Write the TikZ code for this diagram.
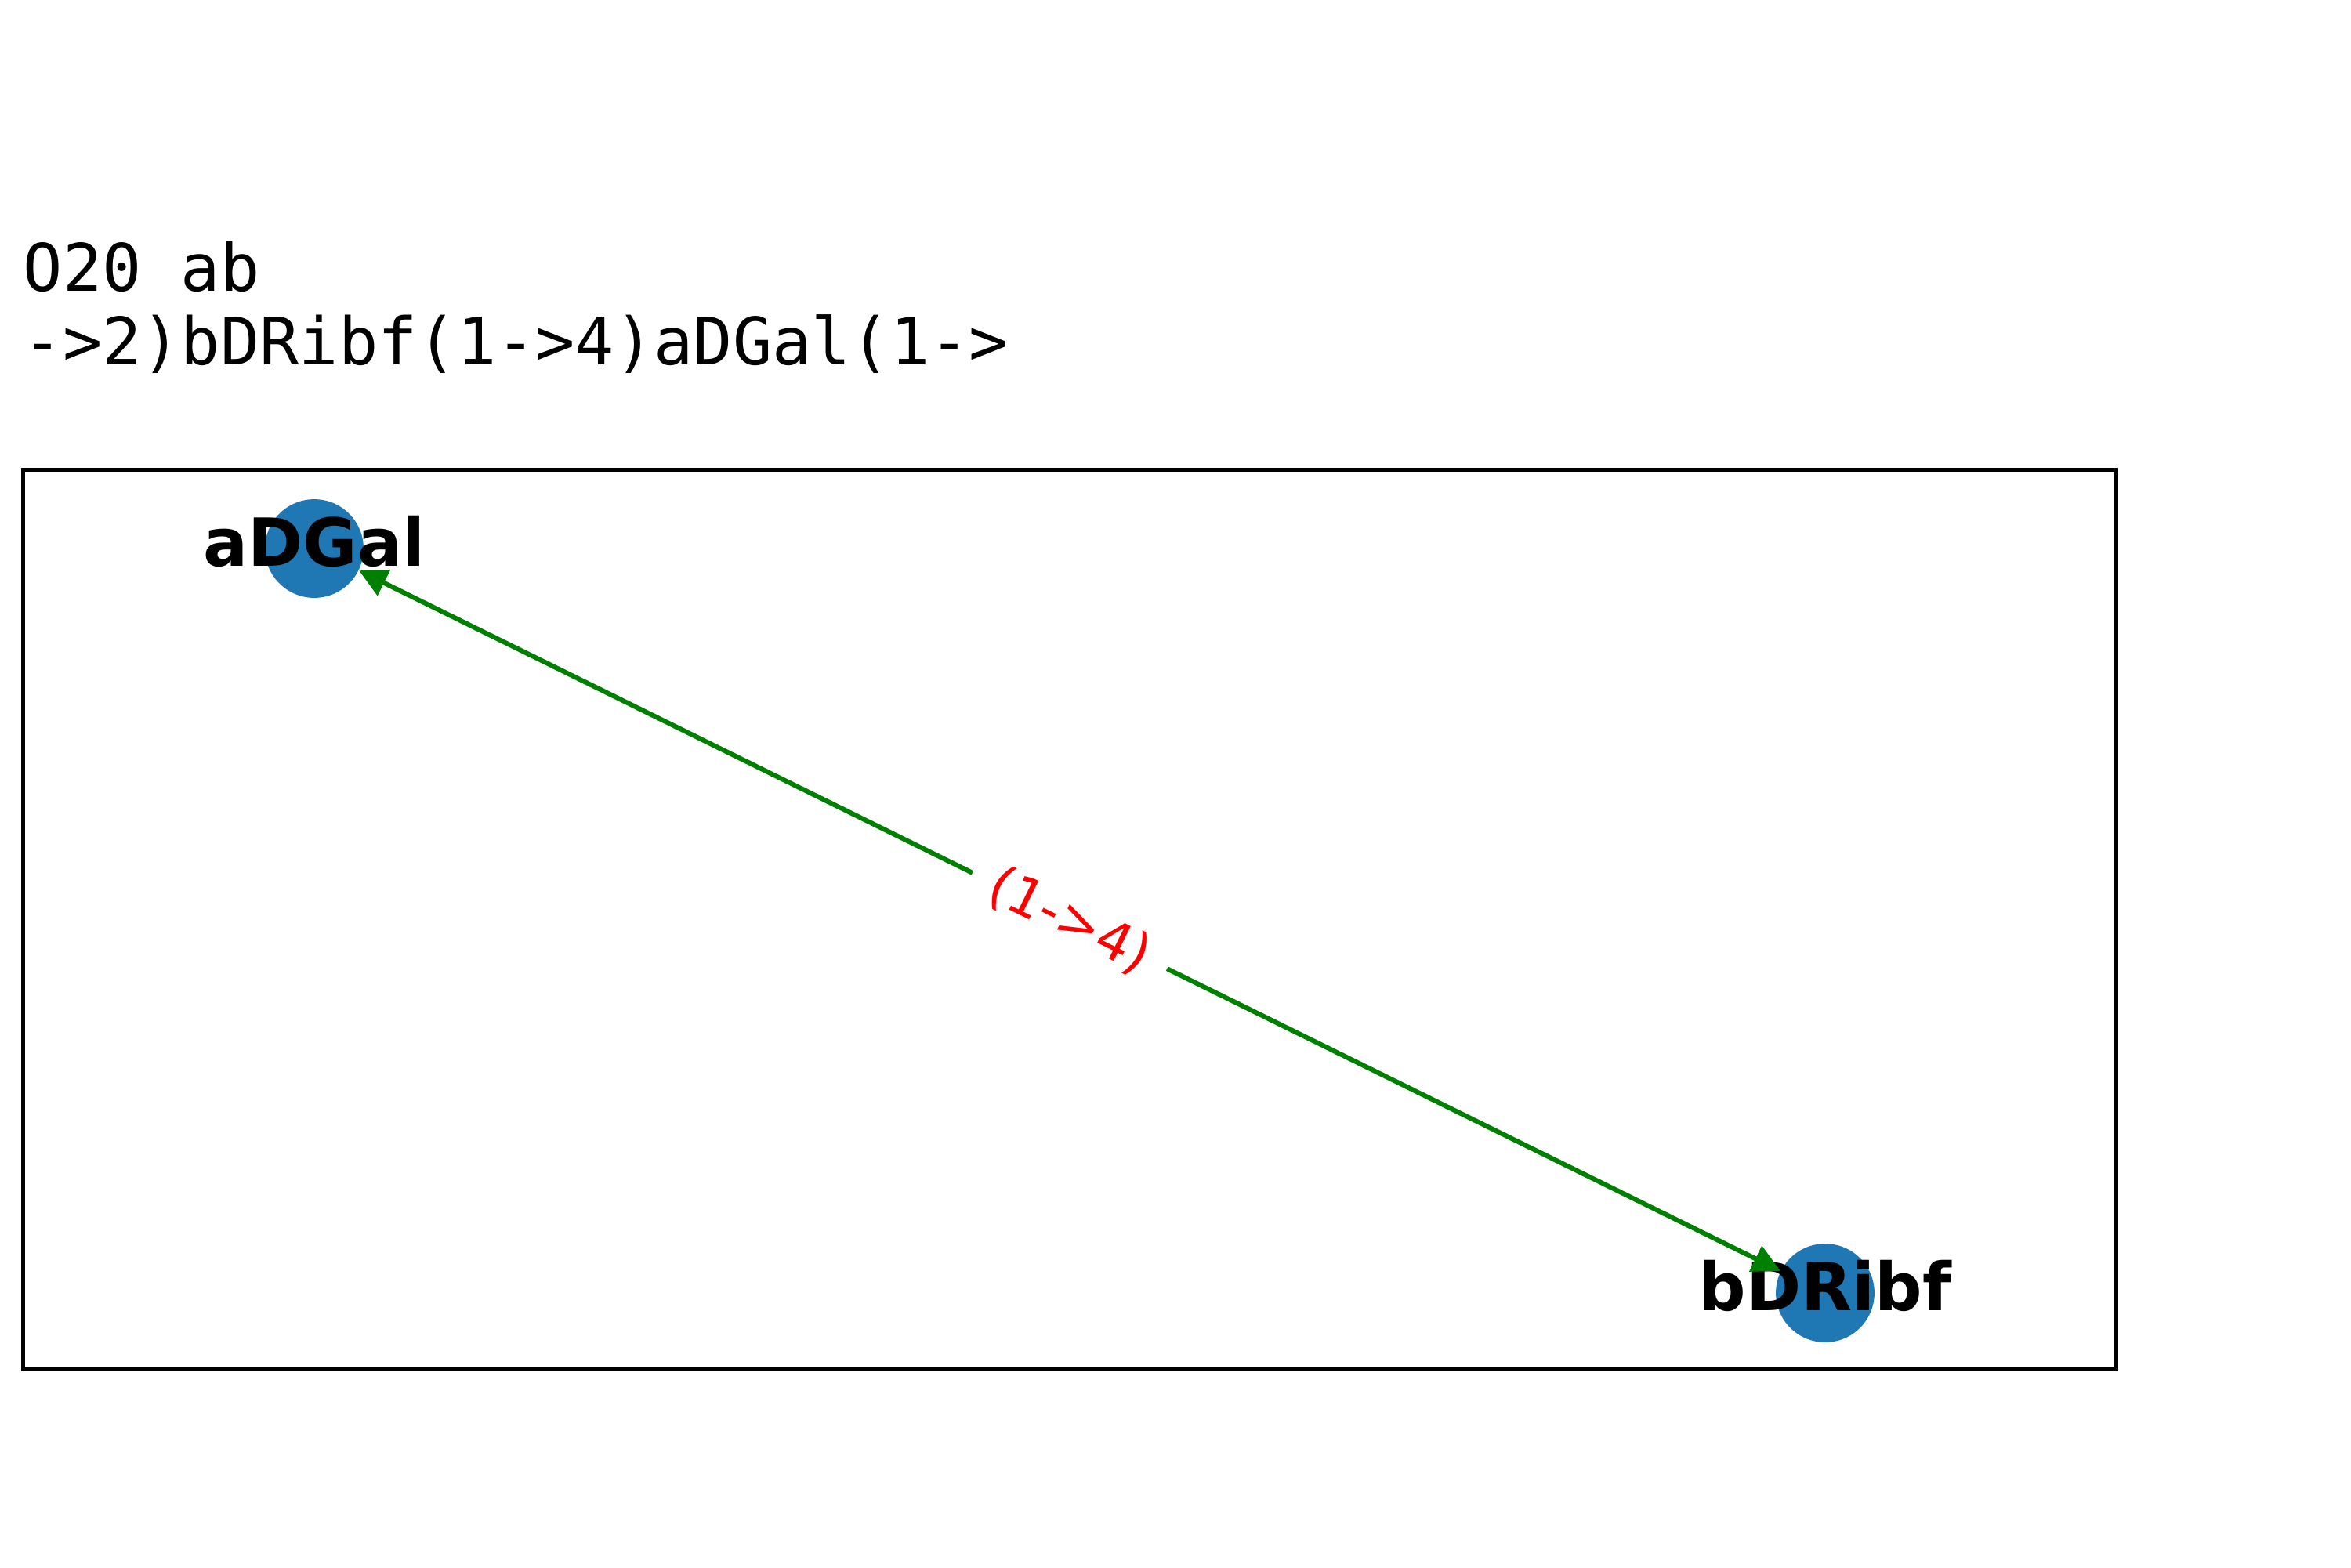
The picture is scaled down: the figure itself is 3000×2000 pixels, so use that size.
\documentclass[tikz,border=0pt]{standalone}
\usepackage{fontspec}
\usetikzlibrary{arrows.meta}
\newfontfamily\monofont{DejaVu Sans Mono}
\newfontfamily\labelfont{DejaVu Sans}
\definecolor{tabblue}{HTML}{1F77B4}
\definecolor{mplgreen}{HTML}{008000}
\tikzset{
  sugar/.style={circle, fill=tabblue, minimum size=30.2pt, inner sep=0pt},
  sugarname/.style={font=\labelfont\bfseries\fontsize{20.3}{24}\selectfont, text height=11pt, text depth=0pt, inner sep=0pt},
  linkage/.style={mplgreen, line width=1.45pt, {Triangle[length=8.5pt,width=8.5pt]}-{Triangle[length=8.5pt,width=8.5pt]}},
  linklabel/.style={font=\labelfont\fontsize{16.3}{19}\selectfont, text=red, fill=white, inner xsep=6.7pt, inner ysep=3pt}
}
\begin{document}
\begin{tikzpicture}[x=0.24pt, y=-0.24pt, line cap=butt, line join=miter]
  \useasboundingbox (0,0) rectangle (3000,2000);
  \node[anchor=north west, align=left, inner sep=0pt, font=\monofont\fontsize{20.05}{22.6}\selectfont] (title) at (29,307) {O20 ab\\->2)bDRibf(1->4)aDGal(1->};
  \draw[line width=1.2pt] (29,599) rectangle (2700,1747);

  \node[sugar, label={[sugarname]center:{aDGal}}] (aDGal) at (401,700) {};
  \node[sugar, label={[sugarname]center:{bDRibf}}] (bDRibf) at (2329,1650) {};

  \draw[linkage] (aDGal) -- node[midway, sloped, linklabel] {(1->4)} (bDRibf);
\end{tikzpicture}
\end{document}
